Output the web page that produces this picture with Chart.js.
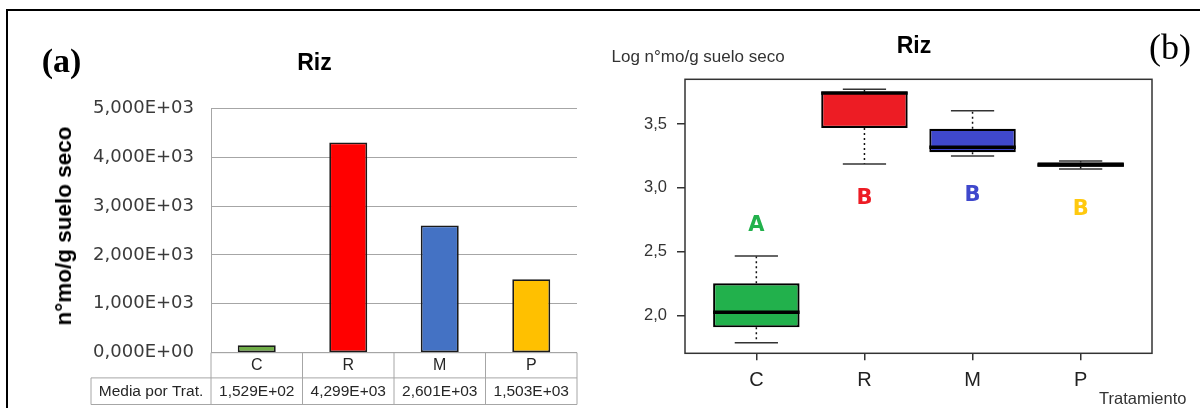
<!DOCTYPE html>
<html>
<head>
<meta charset="utf-8">
<script src="https://cdn.jsdelivr.net/npm/chart.js@4.4.1/dist/chart.umd.min.js"></script>
<style>
html,body{margin:0;padding:0;background:#fff;width:1200px;height:408px;overflow:hidden;position:relative;font-family:'Liberation Sans',Arial,sans-serif}
.frame{position:absolute;left:6px;top:9px;width:1194px;height:399px;border-top:2px solid #000;border-left:2px solid #000;box-sizing:border-box}
.wrap{position:absolute;top:0;width:600px;height:408px}
.t{position:absolute;line-height:1;white-space:nowrap;transform:translate(-50%,-50%)}
.l{position:absolute;line-height:1;white-space:nowrap;transform:translate(0,-50%)}
</style>
</head>
<body>
<div class="frame"></div>
<div class="wrap" style="left:0"><canvas id="ca" width="600" height="408"></canvas></div>
<div class="wrap" style="left:600px"><canvas id="cb" width="600" height="408"></canvas></div>

<div class="t" style="left:61.5px;top:60.6px;font:bold 34px 'Liberation Serif',serif;color:#000">(a)</div>
<div class="t" style="left:314.5px;top:61.5px;font:bold 23px 'Liberation Sans',Arial,sans-serif;color:#000">Riz</div>
<div class="t" style="left:63.5px;top:225.5px;font:bold 22.5px 'Liberation Sans',Arial,sans-serif;color:#000;transform:translate(-50%,-50%) rotate(-90deg)">n°mo/g suelo seco</div>

<div class="t" style="left:914px;top:44.7px;font:bold 23px 'Liberation Sans',Arial,sans-serif;color:#000">Riz</div>
<div class="t" style="left:1170px;top:47.4px;font:36px 'Liberation Serif',serif;color:#000">(b)</div>
<div class="l" style="left:611.5px;top:56.7px;font:17px 'Liberation Sans',Arial,sans-serif;color:#333">Log n°mo/g suelo seco</div>
<div class="l" style="left:1099px;top:397.5px;font:16.5px 'Liberation Sans',Arial,sans-serif;color:#333">Tratamiento</div>

<script>
// ---------- Panel (a) data ----------
const CATS = ['C', 'R', 'M', 'P'];
const MEANS = [152.9, 4299, 2601, 1503];
const BAR_COLORS = ['#70ad47', '#ff0000', '#4472c4', '#ffc000'];
const Y_TICKS_A = [0, 1000, 2000, 3000, 4000, 5000];
const Y_TICK_LABELS_A = ['0,000E+00', '1,000E+03', '2,000E+03', '3,000E+03', '4,000E+03', '5,000E+03'];
const TABLE_ROW_LABEL = 'Media por Trat.';
const TABLE_VALUES = ['1,529E+02', '4,299E+03', '2,601E+03', '1,503E+03'];

// ---------- Panel (b) data ----------
const BOX_CATS = ['C', 'R', 'M', 'P'];
const WHISK_LO = [1.789, 3.187, 3.250, 3.148];
const Q1 = [1.909, 3.469, 3.279, 3.166];
const MEDIAN = [2.027, 3.743, 3.318, 3.180];
const Q3 = [2.254, 3.753, 3.463, 3.200];
const WHISK_HI = [2.467, 3.772, 3.604, 3.211];
const BOX_COLORS = ['#22b14c', '#ed1c24', '#3f48cc', '#ffc90e'];
const GROUP_LETTERS = ['A', 'B', 'B', 'B'];
const LETTER_Y = [2.723, 2.931, 2.957, 2.848];
const Y_TICKS_B = [2.0, 2.5, 3.0, 3.5];
const Y_TICK_LABELS_B = ['2,0', '2,5', '3,0', '3,5'];

Chart.defaults.animation = false;
Chart.defaults.font.family = "'Liberation Sans', Arial, sans-serif";
Chart.defaults.plugins.legend.display = false;
Chart.defaults.plugins.tooltip.enabled = false;

// ---------- Table plugin for panel (a) ----------
const tablePlugin = {
  id: 'dataTable',
  afterDraw(chart) {
    const ctx = chart.ctx, x = chart.scales.x, ca = chart.chartArea;
    const half = (ca.right - ca.left) / CATS.length / 2;
    const top = ca.bottom, mid = ca.bottom + 25.2, bot = ca.bottom + 51.8;
    const leftCol = 91;
    ctx.save();
    ctx.strokeStyle = '#a6a6a6';
    ctx.lineWidth = 1;
    ctx.beginPath();
    ctx.moveTo(ca.left, top); ctx.lineTo(ca.right, top);
    ctx.moveTo(leftCol, mid); ctx.lineTo(ca.right, mid);
    ctx.moveTo(leftCol, bot); ctx.lineTo(ca.right, bot);
    ctx.moveTo(leftCol, mid); ctx.lineTo(leftCol, bot);
    ctx.moveTo(ca.left, top); ctx.lineTo(ca.left, bot);
    CATS.forEach((c, i) => {
      const r = x.getPixelForValue(i) + half;
      ctx.moveTo(r, top); ctx.lineTo(r, bot);
    });
    ctx.stroke();
    ctx.fillStyle = '#262626';
    ctx.textAlign = 'center';
    ctx.textBaseline = 'middle';
    ctx.font = "16px 'Liberation Sans', Arial, sans-serif";
    CATS.forEach((c, i) => ctx.fillText(c, x.getPixelForValue(i), (top + mid) / 2 + 0.5));
    ctx.font = "15.5px 'Liberation Sans', Arial, sans-serif";
    ctx.fillText(TABLE_ROW_LABEL, (leftCol + ca.left) / 2, (mid + bot) / 2 + 0.5);
    TABLE_VALUES.forEach((v, i) => ctx.fillText(v, x.getPixelForValue(i), (mid + bot) / 2 + 0.5));
    ctx.restore();
  }
};

new Chart(document.getElementById('ca'), {
  type: 'bar',
  data: {
    labels: CATS,
    datasets: [{
      data: MEANS,
      backgroundColor: BAR_COLORS,
      borderColor: '#1a1a1a',
      borderWidth: 1.8,
      borderSkipped: false,
      categoryPercentage: 1,
      barPercentage: 0.415
    }]
  },
  options: {
    responsive: false,
    layout: { padding: { left: 0, top: 108.3, right: 23, bottom: 55.3 } },
    scales: {
      x: { display: false, offset: true },
      y: {
        min: 0, max: 5000,
        afterFit(s) { s.width = 211; },
        afterBuildTicks(s) { s.ticks = Y_TICKS_A.map(v => ({ value: v })); },
        ticks: {
          padding: 17,
          color: '#3a3a3a',
          font: { family: "'DejaVu Sans', sans-serif", size: 18 },
          callback: (v) => Y_TICK_LABELS_A[Y_TICKS_A.indexOf(v)]
        },
        grid: { color: '#a6a6a6', lineWidth: 1, drawTicks: false },
        border: { display: true, color: '#a6a6a6', width: 1 }
      }
    }
  },
  plugins: [tablePlugin]
});

// ---------- Box plot extras for panel (b) ----------
const boxPlugin = {
  id: 'boxExtras',
  afterDatasetsDraw(chart) {
    const ctx = chart.ctx, x = chart.scales.x, y = chart.scales.y, ca = chart.chartArea;
    const meta = chart.getDatasetMeta(0);
    ctx.save();
    const seg = (x1, y1, x2, y2) => { ctx.beginPath(); ctx.moveTo(x1, y1); ctx.lineTo(x2, y2); ctx.stroke(); };
    BOX_CATS.forEach((c, i) => {
      const cx = x.getPixelForValue(i + 1);
      const hb = meta.data[i].width / 2;
      const hc = hb / 2;
      // dotted whiskers
      ctx.strokeStyle = '#111'; ctx.lineWidth = 1.5; ctx.setLineDash([2, 3]);
      seg(cx, y.getPixelForValue(Q3[i]), cx, y.getPixelForValue(WHISK_HI[i]));
      seg(cx, y.getPixelForValue(Q1[i]), cx, y.getPixelForValue(WHISK_LO[i]));
      ctx.setLineDash([]);
      // caps
      ctx.strokeStyle = '#333'; ctx.lineWidth = 1.5;
      seg(cx - hc, y.getPixelForValue(WHISK_HI[i]), cx + hc, y.getPixelForValue(WHISK_HI[i]));
      seg(cx - hc, y.getPixelForValue(WHISK_LO[i]), cx + hc, y.getPixelForValue(WHISK_LO[i]));
      // median
      ctx.strokeStyle = '#000'; ctx.lineWidth = 3.5;
      seg(cx - hb, y.getPixelForValue(MEDIAN[i]), cx + hb, y.getPixelForValue(MEDIAN[i]));
      // group letter
      ctx.fillStyle = BOX_COLORS[i];
      ctx.font = "bold 21px 'DejaVu Sans', sans-serif";
      ctx.textAlign = 'center';
      ctx.textBaseline = 'alphabetic';
      ctx.fillText(GROUP_LETTERS[i], cx, y.getPixelForValue(LETTER_Y[i]) + 7.6);
    });
    // frame
    ctx.strokeStyle = '#333'; ctx.lineWidth = 1.5;
    ctx.strokeRect(ca.left, ca.top, ca.right - ca.left, ca.bottom - ca.top);
    ctx.restore();
  }
};

new Chart(document.getElementById('cb'), {
  type: 'bar',
  data: {
    datasets: [{
      data: BOX_CATS.map((c, i) => ({ x: i + 1, y: [Q1[i], Q3[i]] })),
      backgroundColor: BOX_COLORS,
      borderColor: '#000',
      borderWidth: 2.2,
      borderSkipped: false,
      categoryPercentage: 1,
      barPercentage: 0.8
    }]
  },
  options: {
    responsive: false,
    layout: { padding: { left: 0, top: 79.3, right: 48, bottom: 0 } },
    scales: {
      x: {
        type: 'linear',
        min: 0.34, max: 4.66,
        offset: false,
        afterFit(s) { s.height = 54.7; },
        afterBuildTicks(s) { s.ticks = BOX_CATS.map((c, i) => ({ value: i + 1 })); },
        ticks: {
          padding: 8, maxRotation: 0, autoSkip: false,
          color: '#222',
          font: { size: 20 },
          callback: (v) => BOX_CATS[v - 1]
        },
        grid: { offset: false, drawOnChartArea: false, drawTicks: true, tickLength: 7, color: '#333', lineWidth: 1.5 },
        border: { display: false }
      },
      y: {
        min: 1.706, max: 3.85,
        afterFit(s) { s.width = 85; },
        afterBuildTicks(s) { s.ticks = Y_TICKS_B.map(v => ({ value: v })); },
        ticks: {
          padding: 10,
          color: '#333',
          font: { size: 16.5 },
          callback: (v) => Y_TICK_LABELS_B[Y_TICKS_B.indexOf(v)]
        },
        grid: { drawOnChartArea: false, drawTicks: true, tickLength: 8, color: '#333', lineWidth: 1.5 },
        border: { display: false }
      }
    }
  },
  plugins: [boxPlugin]
});
</script>
</body>
</html>
